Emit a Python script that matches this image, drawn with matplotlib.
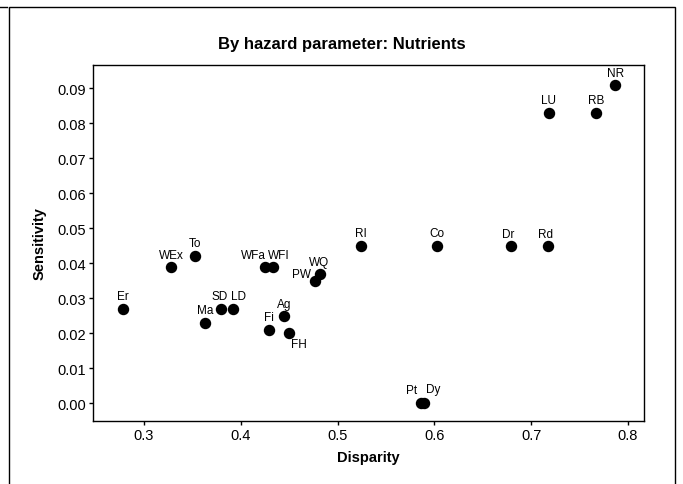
import matplotlib.pyplot as plt
from matplotlib.patches import Rectangle
from matplotlib.lines import Line2D

plt.rcParams['font.family'] = ['Liberation Sans', 'DejaVu Sans']

# data
labels = ['Er', 'WEx', 'To', 'Ma', 'SD', 'LD', 'WFa', 'WFI', 'Fi', 'Ag', 'FH',
          'PW', 'WQ', 'RI', 'Co', 'Pt', 'Dy', 'Dr', 'Rd', 'LU', 'RB', 'NR']
disparity = [0.278, 0.328, 0.353, 0.363, 0.380, 0.392, 0.425, 0.433, 0.429, 0.445, 0.450,
             0.477, 0.482, 0.524, 0.603, 0.586, 0.589, 0.679, 0.717, 0.718, 0.767, 0.787]
sensitivity = [0.027, 0.039, 0.042, 0.023, 0.027, 0.027, 0.039, 0.039, 0.021, 0.025, 0.020,
               0.035, 0.037, 0.045, 0.045, 0.0, 0.0, 0.045, 0.045, 0.083, 0.083, 0.091]
# label offsets in pixels (dx, dy), dy up
offsets = {'Er': (0, 13), 'WEx': (0, 12), 'To': (0, 13), 'Ma': (0, 13), 'SD': (-2, 13),
           'LD': (5, 13), 'WFa': (-12, 12), 'WFI': (6, 12), 'Fi': (0, 13), 'Ag': (0, 12),
           'FH': (10, -11), 'PW': (-14, 7), 'WQ': (-1, 12), 'RI': (0, 13), 'Co': (0, 13),
           'Pt': (-9, 13), 'Dy': (9, 14), 'Dr': (-3, 12), 'Rd': (-2, 12), 'LU': (0, 13),
           'RB': (0, 13), 'NR': (0, 12)}

W, H = 683, 485
fig = plt.figure(figsize=(W / 100, H / 100), dpi=100)
ax = fig.add_axes([93 / W, 1 - 422 / H, (644 - 93) / W, (422 - 66) / H])

ax.scatter(disparity, sensitivity, s=52, color='black', zorder=3)
for lab, x, y in zip(labels, disparity, sensitivity):
    dx, dy = offsets[lab]
    ax.annotate(lab, (x, y), xytext=(dx * 0.72, dy * 0.72), textcoords='offset points',
                ha='center', va='center', fontsize=8.5)

ax.set_xlim(0.2473, 0.8165)
ax.set_ylim(-0.0051, 0.0966)
ax.set_xticks([0.3, 0.4, 0.5, 0.6, 0.7, 0.8])
ax.set_yticks([0.0, 0.01, 0.02, 0.03, 0.04, 0.05, 0.06, 0.07, 0.08, 0.09])
ax.set_xticklabels(['0.3', '0.4', '0.5', '0.6', '0.7', '0.8'])
ax.set_yticklabels(['%.2f' % v for v in ax.get_yticks()])
ax.tick_params(direction='out', length=3, width=1, labelsize=10.5, pad=2)
for s in ax.spines.values():
    s.set_linewidth(1)

ax.set_xlabel('Disparity', fontsize=10.5, fontweight='bold', labelpad=6)
ax.set_ylabel('Sensitivity', fontsize=10.5, fontweight='bold', labelpad=8)
fig.text(342 / W, 1 - 45 / H, 'By hazard parameter: Nutrients', ha='center', va='center',
         fontsize=12, fontweight='bold')

# outer frame
fig.patches.append(Rectangle((9 / W, -0.01), (675 - 9) / W, 1.01 - 8 / H,
                             transform=fig.transFigure, fill=False, edgecolor='black', lw=1))
fig.lines.append(Line2D([0, 7 / W], [1 - 8 / H, 1 - 8 / H], transform=fig.transFigure,
                        color='black', lw=1))

fig.savefig('out.png', dpi=100)
